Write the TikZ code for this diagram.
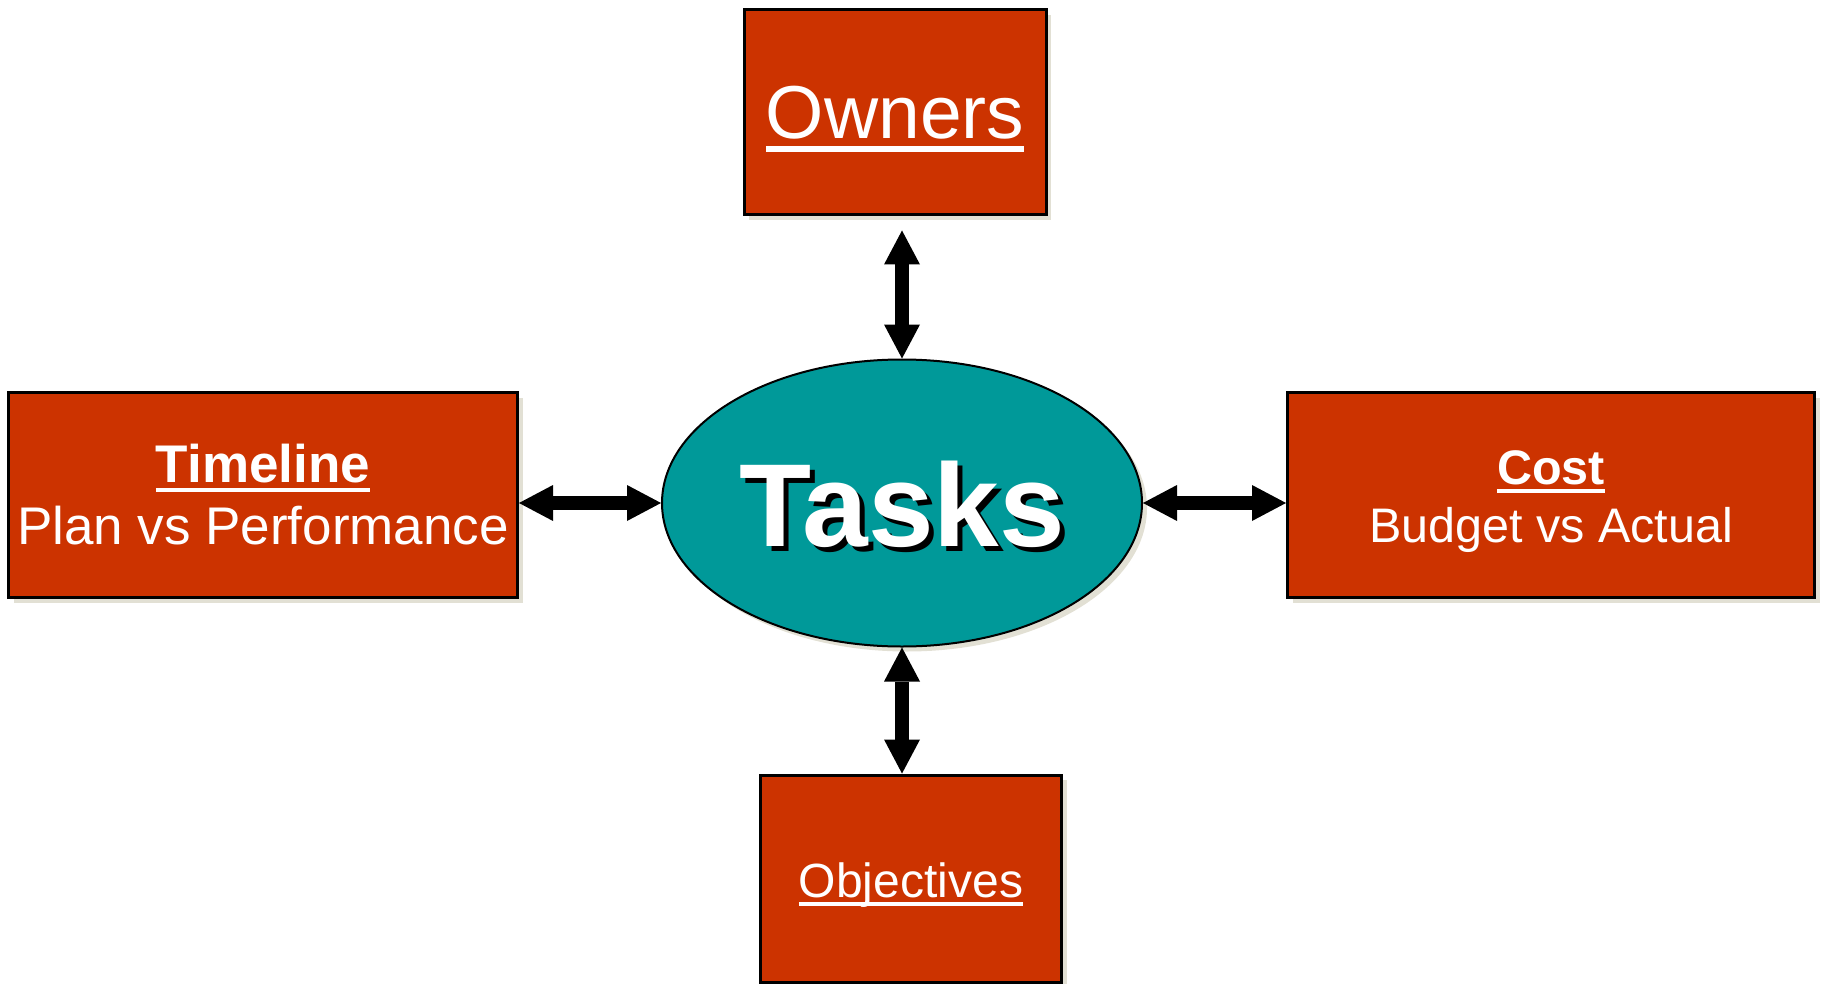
\documentclass[tikz,border=0pt]{standalone}
\usepackage{fontspec}
\setmainfont{Liberation Sans}
\usepackage{tikz}
\usetikzlibrary{positioning}
\usetikzlibrary{arrows.meta}
\usetikzlibrary{shapes,shadows}
\definecolor{boxred}{RGB}{204,51,0}
\definecolor{taskteal}{RGB}{0,153,153}
\definecolor{shadowgray}{RGB}{226,224,212}
\newcommand\undertext[1]{\setbox0\hbox{#1}\rlap{\smash{\rule[-0.18em]{\wd0}{0.08em}}}\box0}
\newcommand\shadowtext[1]{\rlap{\kern5pt\raisebox{-5pt}{\color{black}#1}}#1}
\tikzset{item node/.style={rectangle,fill=boxred,draw=black,line width=3pt,text=white,align=center,inner sep=0pt,minimum height=205pt,
    drop shadow={shadow xshift=5pt,shadow yshift=-5pt,fill=shadowgray,opacity=1}},
  task node/.style={ellipse,fill=taskteal,draw=black,line width=2pt,text=white,minimum width=480pt,minimum height=287pt,inner sep=0pt,
    drop shadow={shadow xshift=5pt,shadow yshift=-5pt,fill=shadowgray,opacity=1}},
  link/.style={line width=14pt,<->,>={Triangle[length=34pt,width=36pt,line width=0pt]}},}

\begin{document}
\begin{tikzpicture}
    \useasboundingbox (0,0) rectangle (1825pt,-984pt);
    \node[task node,font=\fontsize{118}{130}\selectfont\bfseries,text height=94pt] (tasks) at (902pt,-503pt) {\shadowtext{Tasks}};
    \node[item node,minimum width=302pt,font=\fontsize{75}{90}\selectfont] (owners) [above=142pt of tasks,xshift=-7pt]
        {\undertext{Owners}};
    \node[item node,minimum width=301pt,minimum height=207pt,font=\fontsize{48}{58}\selectfont,text height=47pt] (objectives) [below=126pt of tasks,xshift=9pt]
        {\undertext{Objectives}};
    \node[item node,minimum width=509pt,font=\fontsize{53}{62}\selectfont] (timeline) [left=142pt of tasks,yshift=8pt]
        {\undertext{\bfseries Timeline}\\Plan vs Performance};
    \node[item node,minimum width=527pt,font=\fontsize{48.5}{58}\selectfont] (cost) [right=143pt of tasks,yshift=8pt]
        {\rule{0pt}{47pt}\undertext{\bfseries Cost}\\Budget vs Actual};

    \draw[link,shorten >=14pt] (tasks.north) -- (tasks.north |- owners.south);
    \draw[link] (tasks.south) -- (tasks.south |- objectives.north);
    \draw[link] (tasks.west) -- (tasks.west -| timeline.east);
    \draw[link] (tasks.east) -- (tasks.east -| cost.west);
\end{tikzpicture}
\end{document}
